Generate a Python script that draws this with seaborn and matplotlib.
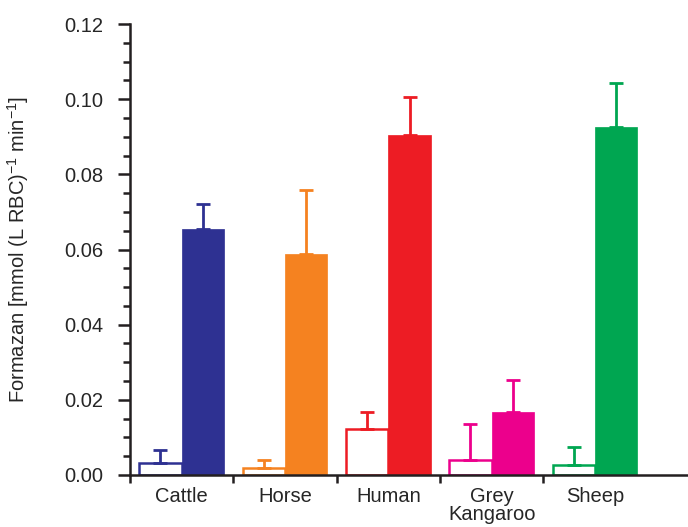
import numpy as np
import pandas as pd
import matplotlib
matplotlib.use("Agg")
import matplotlib.pyplot as plt
import seaborn as sns
from matplotlib.ticker import MultipleLocator, FixedLocator

species = ["Cattle", "Horse", "Human", "Grey\nKangaroo", "Sheep"]
colors = ["#2E3192", "#F58220", "#ED1C24", "#EC008C", "#00A651"]
conditions = ["open", "filled"]
open_vals = [0.0033, 0.0019, 0.0122, 0.0039, 0.0027]
open_err = [0.0033, 0.0021, 0.0045, 0.0097, 0.0048]
filled_vals = [0.0654, 0.0588, 0.0904, 0.0167, 0.0926]
filled_err = [0.0067, 0.0170, 0.0101, 0.0086, 0.0117]
yticks = [0.00, 0.02, 0.04, 0.06, 0.08, 0.10, 0.12]

sns.set_style("ticks")
plt.rcParams["font.family"] = ["Liberation Sans", "DejaVu Sans"]
plt.rcParams["mathtext.fontset"] = "custom"
plt.rcParams["mathtext.rm"] = "Liberation Sans"

df = pd.DataFrame({
    "species": species * 2,
    "cond": ["open"] * 5 + ["filled"] * 5,
    "value": open_vals + filled_vals,
})

fig = plt.figure(figsize=(6.88, 5.27), dpi=100)
ax = fig.add_axes([130 / 688, 1 - 475 / 527, 1 - 130 / 688, (475 - 24) / 527])

sns.barplot(data=df, x="species", y="value", hue="cond", hue_order=conditions,
            order=species, errorbar=None, width=0.82, ax=ax, legend=False,
            palette=["white", "white"])

patches = ax.patches[:10]
for i, p in enumerate(patches):
    cond_i = i // 5
    sp_i = i % 5
    c = colors[sp_i]
    cx = p.get_x() + p.get_width() / 2
    h = p.get_height()
    if cond_i == 0:
        p.set_facecolor("white")
        p.set_edgecolor(c)
        p.set_linewidth(1.8)
        err = open_err[sp_i]
    else:
        p.set_facecolor(c)
        p.set_edgecolor(c)
        p.set_linewidth(0.5)
        err = filled_err[sp_i]
    ax.errorbar([cx], [h], yerr=[[0], [err]], fmt="none", ecolor=c,
                elinewidth=2, capsize=5, capthick=2, zorder=1)

ax.set_ylim(0, 0.12)
ax.set_xlim(-0.5, 4.9)
ax.set_yticks(yticks)
ax.set_yticklabels([f"{v:.2f}" for v in yticks])
ax.yaxis.set_minor_locator(MultipleLocator(0.005))
ax.xaxis.set_minor_locator(FixedLocator([-0.5, 0.5, 1.5, 2.5, 3.5]))
ax.tick_params(axis="x", which="major", length=0, labelsize=14.5, pad=9)
ax.tick_params(axis="x", which="minor", length=6, width=1.8, direction="out", color="#231F20")
ax.tick_params(axis="y", which="major", length=9, width=1.8, labelsize=14.5, pad=10, color="#231F20")
ax.tick_params(axis="y", which="minor", length=5, width=1.8, direction="out", color="#231F20")
for lbl in ax.get_xticklabels():
    lbl.set_linespacing(0.88)
for s in ["top", "right"]:
    ax.spines[s].set_visible(False)
for s in ["left", "bottom"]:
    ax.spines[s].set_linewidth(1.8)
    ax.spines[s].set_color("#231F20")
ax.set_xlabel("")
ax.set_ylabel(r"Formazan [mmol (L RBC)$^{\mathdefault{-1}}$ min$^{\mathdefault{-1}}$]", fontsize=14.5, labelpad=24)

fig.savefig("out.png", dpi=100)
